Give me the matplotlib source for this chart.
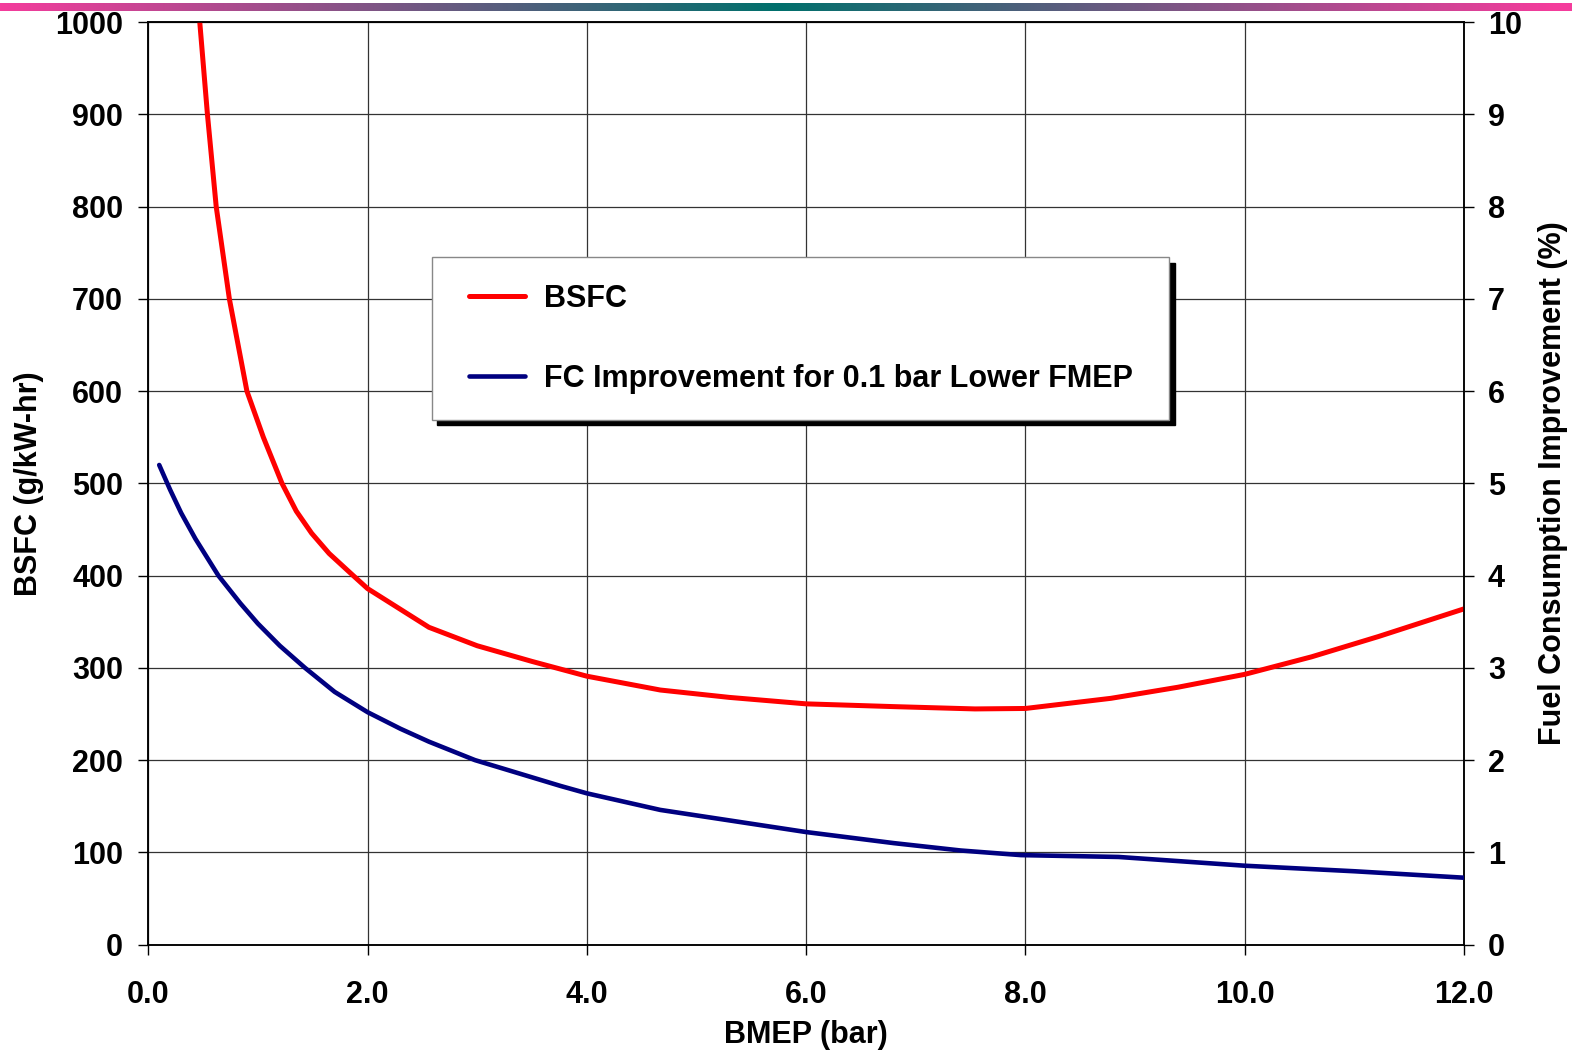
import numpy as np
import matplotlib
matplotlib.use('Agg')
from matplotlib import pyplot as plt
from matplotlib.lines import Line2D
from matplotlib.legend_handler import HandlerLine2D

plt.rcParams['font.family'] = ['Liberation Sans', 'DejaVu Sans']
plt.rcParams['font.weight'] = 'bold'

# BSFC vs BMEP (left axis, g/kW-hr)
bmep_bsfc = [0.47, 0.54, 0.62, 0.74, 0.90, 1.05, 1.22, 1.35, 1.49, 1.65, 1.87, 2.0, 2.56,
             3.0, 3.5, 4.0, 4.67, 5.3, 6.0, 6.8, 7.54, 8.0, 8.78, 9.39, 10.0, 10.61,
             11.22, 12.0]
bsfc = [1000, 900, 800, 700, 600, 550, 500, 470, 446, 424, 400, 386, 344,
        324, 307, 291, 276, 268, 261, 258, 255.5, 256, 267, 279, 293, 312,
        334, 364]

# fuel consumption improvement for 0.1 bar lower FMEP (right axis, %)
bmep_fc = [0.10, 0.2, 0.3, 0.43, 0.64, 0.84, 1.0, 1.2, 1.43, 1.7, 2.0, 2.3, 2.56,
           2.98, 3.76, 4.0, 4.67, 6.0, 6.8, 7.41, 7.96, 8.85, 10.0, 11.0, 12.0]
fc_improvement = [5.2, 4.93, 4.68, 4.4, 4.0, 3.70, 3.48, 3.24, 3.0, 2.74, 2.52, 2.34, 2.2,
                  2.0, 1.72, 1.64, 1.46, 1.22, 1.10, 1.02, 0.97, 0.95, 0.855, 0.795, 0.725]

x_ticks = [0, 2, 4, 6, 8, 10, 12]
bsfc_ticks = list(range(0, 1001, 100))
fc_ticks = list(range(0, 11))

FS = 22

fig = plt.figure(figsize=(15.72, 10.5), dpi=100)

# gradient strip along the top edge
bar = fig.add_axes([0, 1 - 11 / 1050, 1, 8 / 1050])
pink = np.array([244, 60, 156]) / 255
teal = np.array([0, 112, 108]) / 255
xs = np.linspace(0, 1, 1024)
t = np.clip(np.abs(xs - 0.494) / 0.494, 0, 1)
grad = teal + t[:, None] * (pink - teal)
bar.imshow(grad[None, :, :], aspect='auto', extent=[0, 1, 0, 1])
bar.axis('off')

ax = fig.add_axes([0.0943, 0.1004, 0.837, 0.8784])
ax.plot(bmep_bsfc, bsfc, color='#ff0000', lw=3.6, label='BSFC',
        solid_capstyle='round', solid_joinstyle='round', zorder=3)
ax.set_xlim(0, 12)
ax.set_ylim(0, 1000)
ax.set_xticks(x_ticks)
ax.set_xticklabels(['%.1f' % v for v in x_ticks])
ax.set_yticks(bsfc_ticks)
ax.grid(True, color='#333333', lw=0.9)
ax.set_axisbelow(True)
ax.tick_params(axis='both', direction='out', length=7.2, width=1.0, labelsize=FS)
ax.tick_params(axis='x', pad=18)
ax.tick_params(axis='y', pad=10.8)
for s in ax.spines.values():
    s.set_linewidth(1.1)
ax.set_xlabel('BMEP (bar)', fontsize=FS, fontweight='bold', labelpad=7.5)
ax.set_ylabel('BSFC (g/kW-hr)', fontsize=FS, fontweight='bold')
ax.yaxis.set_label_coords(-0.0795, 0.5)

ax2 = ax.twinx()
ax2.plot(bmep_fc, fc_improvement, color='#000080', lw=3.3,
         label='FC Improvement for 0.1 bar Lower FMEP',
         solid_capstyle='round', solid_joinstyle='round', zorder=3)
ax2.set_ylim(0, 10)
ax2.set_yticks(fc_ticks)
ax2.tick_params(axis='y', direction='out', length=7.2, width=1.0, labelsize=FS, pad=10)
for s in ax2.spines.values():
    s.set_linewidth(1.1)
ax2.set_ylabel('Fuel Consumption Improvement (%)', fontsize=FS, fontweight='bold')
ax2.yaxis.set_label_coords(1.0565, 0.5)

h1, l1 = ax.get_legend_handles_labels()
h2, l2 = ax2.get_legend_handles_labels()
leg = ax2.legend(h1 + h2, l1 + l2, loc='upper left',
                 bbox_to_anchor=(0.2156, 0.5720, 0.5602, 0.1732), mode='expand',
                 borderaxespad=0, fontsize=FS, fancybox=False, framealpha=1,
                 edgecolor='#888888',
                 shadow={'color': 'black', 'alpha': 1, 'ox': 4, 'oy': -4},
                 borderpad=0.86, labelspacing=1.64, handlelength=2.2,
                 handletextpad=0.6,
                 handler_map={Line2D: HandlerLine2D(xpad=0.36)})
leg.get_frame().set_linewidth(1.0)

fig.savefig('out.png', dpi=100)
